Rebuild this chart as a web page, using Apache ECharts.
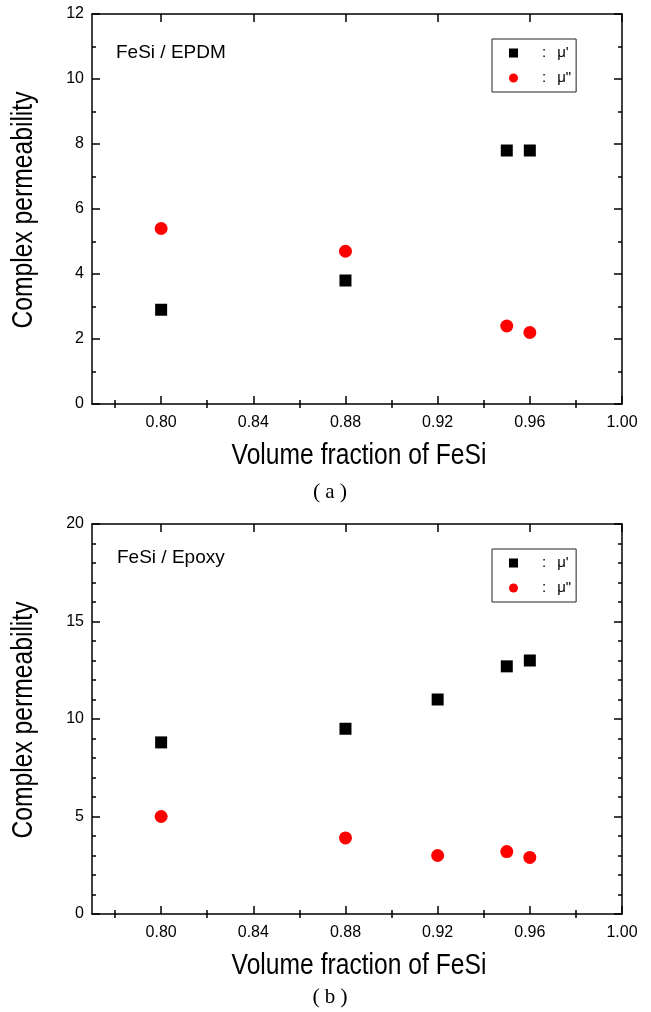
<!DOCTYPE html>
<html>
<head>
<meta charset="utf-8">
<script src="https://cdn.jsdelivr.net/npm/echarts@6/dist/echarts.min.js"></script>
<style>
  html, body { margin: 0; padding: 0; background: #fff; }
  #chart { width: 651px; height: 1012px; }
</style>
</head>
<body>
<div id="chart"></div>
<script>
// Volume fractions of FeSi for each composite
const epdmFractions = [0.80, 0.88, 0.95, 0.96];
const epdmMuReal = [2.9, 3.8, 7.8, 7.8];
const epdmMuImag = [5.4, 4.7, 2.4, 2.2];

const epoxyFractions = [0.80, 0.88, 0.92, 0.95, 0.96];
const epoxyMuReal = [8.8, 9.5, 11.0, 12.7, 13.0];
const epoxyMuImag = [5.0, 3.9, 3.0, 3.2, 2.9];

// Axis ticks
const xMajorTicks = [0.80, 0.84, 0.88, 0.92, 0.96, 1.00];
const xMinorTicks = [0.78, 0.82, 0.86, 0.90, 0.94, 0.98];
const xRange = [0.77, 1.00];
const yRangeEpdm = [0, 12, 2];
const yRangeEpoxy = [0, 20, 5];

const panelTitles = ['FeSi / EPDM', 'FeSi / Epoxy'];
const panelCaptions = ['a', 'b'];
const seriesNames = ["\u03BC'", '\u03BC"'];
const xTitle = 'Volume fraction of FeSi';
const yTitle = 'Complex permeability';

const SANS = 'Liberation Sans, Arial, sans-serif';
const SERIF = 'Liberation Serif, Times New Roman, serif';

const grids = [
  { left: 92, right: 29, top: 14, height: 390 },
  { left: 92, right: 29, top: 524, height: 390 }
];

function xAxisPart(gridIndex, position, ticks, len, opts) {
  return Object.assign({
    type: 'value', gridIndex, position,
    min: xRange[0], max: xRange[1],
    axisLine: { show: true, onZero: false, lineStyle: { color: '#000', width: 1.5 } },
    axisTick: { show: true, inside: true, length: len, customValues: ticks,
                lineStyle: { color: '#000', width: 1.5 } },
    axisLabel: { show: false },
    splitLine: { show: false }
  }, opts || {});
}

function xAxesFor(gridIndex) {
  return [
    xAxisPart(gridIndex, 'bottom', xMajorTicks, 8, {
      axisLabel: { show: true, customValues: xMajorTicks, margin: 11,
                   formatter: v => v.toFixed(2), color: '#000',
                   fontFamily: SANS, fontSize: 16 }
    }),
    xAxisPart(gridIndex, 'bottom', xMinorTicks, 4, { axisLine: { show: false } }),
    xAxisPart(gridIndex, 'top', xMajorTicks, 8),
    xAxisPart(gridIndex, 'top', xMinorTicks, 4, { axisLine: { show: false } })
  ];
}

function yAxesFor(gridIndex, range, minorSplit) {
  const base = {
    type: 'value', gridIndex, min: range[0], max: range[1], interval: range[2],
    axisLine: { show: true, lineStyle: { color: '#000', width: 1.5 } },
    axisTick: { show: true, inside: true, length: 8, lineStyle: { color: '#000', width: 1.5 } },
    minorTick: { show: true, splitNumber: minorSplit, length: 4,
                 lineStyle: { color: '#000', width: 1.5 } },
    splitLine: { show: false }
  };
  return [
    Object.assign({}, base, {
      position: 'left',
      axisLabel: { show: true, margin: 8, color: '#000', fontFamily: SANS, fontSize: 16 }
    }),
    Object.assign({}, base, { position: 'right', axisLabel: { show: false } })
  ];
}

function pairs(xs, ys) { return xs.map((x, i) => [x, ys[i]]); }

function legendFor(top) {
  return {
    left: 492, top, orient: 'vertical', selectedMode: false,
    data: [{ name: seriesNames[0], icon: 'rect' }, { name: seriesNames[1], icon: 'circle' }],
    itemWidth: 9, itemHeight: 9, itemGap: 9,
    borderColor: '#222', borderWidth: 1, padding: [6, 5, 6, 17],
    formatter: name => '{s| }:{g| }' + name,
    textStyle: { fontFamily: SANS, fontSize: 15, color: '#000', lineHeight: 16,
                 rich: { s: { width: 19 }, g: { width: 11 } } }
  };
}

// Axis titles are set in a condensed face: a regular face squeezed horizontally
function axisTitles(plotTop) {
  return [
    { type: 'text', x: 359, y: plotTop + 442, scaleX: 0.85, silent: true,
      style: { text: xTitle, font: '29px ' + SANS, fill: '#000',
               textAlign: 'center', textVerticalAlign: 'middle' } },
    { type: 'text', x: 24, y: plotTop + 196, rotation: Math.PI / 2, scaleX: 0.85, silent: true,
      style: { text: yTitle, font: '29px ' + SANS, fill: '#000',
               textAlign: 'center', textVerticalAlign: 'middle' } }
  ];
}

function caption(letter, top) {
  return { text: '{p|(}{l|' + letter + '}{p|)}', left: 330, top, textAlign: 'center', padding: 0,
    textStyle: { fontFamily: SERIF, fontSize: 21, fontWeight: 'normal', color: '#000',
      rich: { p: { fontFamily: SERIF, fontSize: 22, color: '#000' },
              l: { fontFamily: SERIF, fontSize: 21, color: '#000', padding: [0, 5, 0, 5] } } } };
}

const option = {
  animation: false,
  backgroundColor: '#fff',
  grid: grids,
  xAxis: [...xAxesFor(0), ...xAxesFor(1)],
  yAxis: [...yAxesFor(0, yRangeEpdm, 2), ...yAxesFor(1, yRangeEpoxy, 5)],
  title: [
    { text: panelTitles[0], left: 116, top: 43, padding: 0,
      textStyle: { fontFamily: SANS, fontSize: 19, fontWeight: 'normal', color: '#000' } },
    { text: panelTitles[1], left: 117, top: 548, padding: 0,
      textStyle: { fontFamily: SANS, fontSize: 19, fontWeight: 'normal', color: '#000' } },
    caption(panelCaptions[0], 481),
    caption(panelCaptions[1], 986)
  ],
  legend: [legendFor(39), legendFor(549)],
  graphic: [...axisTitles(14), ...axisTitles(524)],
  series: [
    { name: seriesNames[0], type: 'scatter', xAxisIndex: 0, yAxisIndex: 0,
      symbol: 'rect', symbolSize: 12, itemStyle: { color: '#000', opacity: 1 },
      data: pairs(epdmFractions, epdmMuReal) },
    { name: seriesNames[1], type: 'scatter', xAxisIndex: 0, yAxisIndex: 0,
      symbol: 'circle', symbolSize: 13, itemStyle: { color: '#ff0000', opacity: 1 },
      data: pairs(epdmFractions, epdmMuImag) },
    { name: seriesNames[0], type: 'scatter', xAxisIndex: 4, yAxisIndex: 2,
      symbol: 'rect', symbolSize: 12, itemStyle: { color: '#000', opacity: 1 },
      data: pairs(epoxyFractions, epoxyMuReal) },
    { name: seriesNames[1], type: 'scatter', xAxisIndex: 4, yAxisIndex: 2,
      symbol: 'circle', symbolSize: 13, itemStyle: { color: '#ff0000', opacity: 1 },
      data: pairs(epoxyFractions, epoxyMuImag) }
  ]
};

const chart = echarts.init(document.getElementById('chart'), null, { renderer: 'canvas' });
chart.setOption(option);
</script>
</body>
</html>
